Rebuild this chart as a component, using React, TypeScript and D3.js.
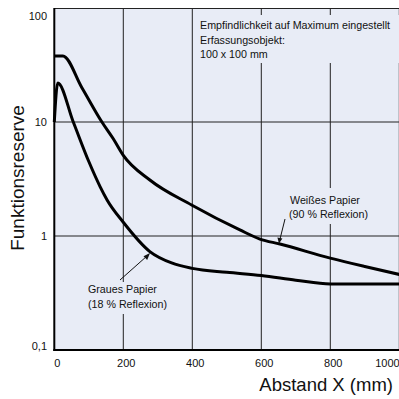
import React from "react";
import * as d3 from "d3";

// Abstand X (mm)
const distances = [0, 25, 80, 138, 170, 200, 277, 398, 538, 596, 654, 800, 900, 1000];
// Weißes Papier (90 % Reflexion)
const whitePaper = [38, 38, 20, 10, 7.2, 5.1, 3.1, 1.87, 1.13, 0.94, 0.85, 0.64, 0.54, 0.46];

const greyDistances = [0, 10, 55, 100, 133, 153, 200, 277, 340, 400, 500, 600, 700, 800, 1000];
// Graues Papier (18 % Reflexion)
const greyPaper = [10, 22, 10, 4.5, 2.7, 2.07, 1.32, 0.73, 0.58, 0.52, 0.48, 0.45, 0.41, 0.38, 0.38];

const xTicks = [0, 200, 400, 600, 800, 1000];
const yTicks = [0.1, 1, 10, 100];
const yTickLabels = ["0,1", "1", "10", "100"];

const noteLines = [
  "Empfindlichkeit auf Maximum eingestellt",
  "Erfassungsobjekt:",
  "100 x 100 mm",
];
const whiteLabel = ["Weißes Papier", "(90 % Reflexion)"];
const greyLabel = ["Graues Papier", "(18 % Reflexion)"];

const W = 399;
const H = 399;
const bg = "#e8ecf6";
const font = "'Liberation Sans', Arial, Helvetica, sans-serif";

export default function App() {
  const x = d3.scaleLinear().domain([0, 1000]).range([54.3, 399.3]);
  const y = d3.scaleLog().domain([0.1, 100]).range([350, 8]);

  const line = d3
    .line<[number, number]>()
    .x((d) => x(d[0]))
    .y((d) => y(d[1]))
    .curve(d3.curveMonotoneX);

  const whitePts = distances.map((d, i) => [d, whitePaper[i]] as [number, number]);
  const greyPts = greyDistances.map((d, i) => [d, greyPaper[i]] as [number, number]);

  const left = x(0);
  const top = y(100);
  const bottom = y(0.1);

  return (
    <svg
      width={W}
      height={H}
      style={{ position: "absolute", left: 0, top: 0, background: "#fff" }}
      fontFamily={font}
    >
      <rect x={left} y={top} width={W - left} height={bottom - top} fill={bg} />

      {/* grid */}
      {xTicks.slice(1).map((t) => (
        <line key={"gx" + t} x1={x(t)} x2={x(t)} y1={top} y2={bottom} stroke="#222" strokeWidth={1} />
      ))}
      {[1, 10].map((t) => (
        <line key={"gy" + t} x1={left} x2={W} y1={y(t)} y2={y(t)} stroke="#222" strokeWidth={1} />
      ))}
      <line x1={left} x2={W} y1={top + 0.5} y2={top + 0.5} stroke="#222" strokeWidth={1} />

      {/* text boxes break the grid */}
      <rect x={198} y={15} width={201} height={48} fill={bg} />
      <rect x={287} y={188} width={90} height={36} fill={bg} />
      <rect x={86} y={282} width={88} height={32} fill={bg} />

      <g fontSize={10.7} fill="#111">
        {noteLines.map((s, i) => (
          <text key={s} x={200} y={29 + i * 14.5}>{s}</text>
        ))}
        {whiteLabel.map((s, i) => (
          <text key={s} x={i === 0 ? 290 : 289} y={204 + i * 14}>{s}</text>
        ))}
        {greyLabel.map((s, i) => (
          <text key={s} x={88} y={293 + i * 14.5}>{s}</text>
        ))}
      </g>

      {/* arrows */}
      <line x1={120} y1={280} x2={147} y2={256} stroke="#111" strokeWidth={1} />
      <path d="M150,253 L143.5,256.2 L147.2,260 Z" fill="#111" />
      <line x1={285} y1={219} x2={280} y2={239} stroke="#111" strokeWidth={1} />
      <path d="M279,243.5 L277.4,237.5 L282.4,238.6 Z" fill="#111" />

      {/* curves */}
      <path d={line(whitePts) ?? ""} fill="none" stroke="#000" strokeWidth={3} strokeLinejoin="round" />
      <path d={line(greyPts) ?? ""} fill="none" stroke="#000" strokeWidth={3} strokeLinejoin="round" />

      {/* axes */}
      <line x1={left} x2={left} y1={top} y2={bottom + 1} stroke="#000" strokeWidth={2} />
      <line x1={left - 1} x2={W} y1={bottom} y2={bottom} stroke="#000" strokeWidth={2} />

      <g fontSize={11} fill="#111">
        {xTicks.map((t) => (
          <text key={"xt" + t} x={Math.min(x(t) + 3, 387.5)} y={367} textAnchor="middle">{t}</text>
        ))}
        {yTicks.map((t, i) => (
          <text
            key={"yt" + t}
            x={47}
            y={Math.min(Math.max(y(t), 16), 346) + 4}
            textAnchor="end"
          >
            {yTickLabels[i]}
          </text>
        ))}
      </g>

      <text x={393} y={391} fontSize={18.5} textAnchor="end" fill="#111">
        Abstand X (mm)
      </text>
      <text
        transform={`translate(24,178) rotate(-90)`}
        fontSize={19}
        textAnchor="middle"
        fill="#111"
      >
        Funktionsreserve
      </text>
    </svg>
  );
}
